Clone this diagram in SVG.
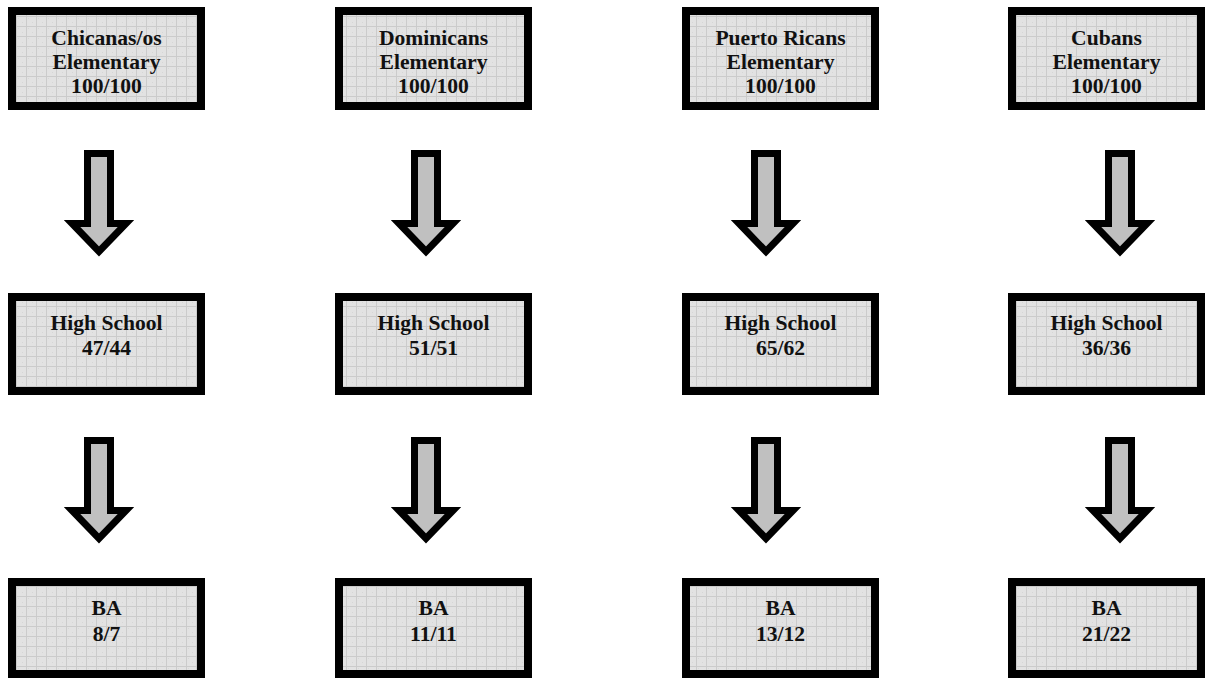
<svg xmlns="http://www.w3.org/2000/svg" width="1209" height="679" viewBox="0 0 1209 679">
<style>
.box{fill:url(#grid);stroke:#000;stroke-width:8}
.arr{fill:#c0c0c0;stroke:#000;stroke-width:7;stroke-linejoin:miter;stroke-miterlimit:10}
text{font-family:"Liberation Serif","Times New Roman",serif;font-weight:bold;font-size:21.6px;fill:#111;text-anchor:middle}
</style>
<defs>
<pattern id="grid" width="10" height="10" patternUnits="userSpaceOnUse" x="16" y="16">
<rect width="10" height="10" fill="#e2e2e2"/>
<rect x="2" y="2" width="1" height="1" fill="#d6d6d6"/>
<rect x="6" y="6" width="1" height="1" fill="#d6d6d6"/>
<path d="M0 0.5H10M0.5 0V10" stroke="#cbcbcb" stroke-width="1"/>
</pattern>
<polygon id="a1" points="-11.5,0 11.5,0 11.5,70 27,70 0,98 -27,70 -11.5,70"/>
</defs>
<rect width="1209" height="679" fill="#fff"/>
<g id="n-chicanas-elem"><rect class="box" x="12" y="11" width="189" height="95"/><text x="106.5" y="45">Chicanas/os</text><text x="106.5" y="69">Elementary</text><text x="106.5" y="93">100/100</text></g>
<g id="n-dominicans-elem"><rect class="box" x="339" y="11" width="189" height="95"/><text x="433.5" y="45">Dominicans</text><text x="433.5" y="69">Elementary</text><text x="433.5" y="93">100/100</text></g>
<g id="n-puertoricans-elem"><rect class="box" x="686" y="11" width="189" height="95"/><text x="780.5" y="45">Puerto Ricans</text><text x="780.5" y="69">Elementary</text><text x="780.5" y="93">100/100</text></g>
<g id="n-cubans-elem"><rect class="box" x="1012" y="11" width="189" height="95"/><text x="1106.5" y="45">Cubans</text><text x="1106.5" y="69">Elementary</text><text x="1106.5" y="93">100/100</text></g>

<g id="n-chicanas-hs"><rect class="box" x="12" y="297" width="189" height="94"/><text x="106.5" y="330">High School</text><text x="106.5" y="355">47/44</text></g>
<g id="n-dominicans-hs"><rect class="box" x="339" y="297" width="189" height="94"/><text x="433.5" y="330">High School</text><text x="433.5" y="355">51/51</text></g>
<g id="n-puertoricans-hs"><rect class="box" x="686" y="297" width="189" height="94"/><text x="780.5" y="330">High School</text><text x="780.5" y="355">65/62</text></g>
<g id="n-cubans-hs"><rect class="box" x="1012" y="297" width="189" height="94"/><text x="1106.5" y="330">High School</text><text x="1106.5" y="355">36/36</text></g>

<g id="n-chicanas-ba"><rect class="box" x="12" y="582" width="189" height="92"/><text x="106.5" y="615">BA</text><text x="106.5" y="641">8/7</text></g>
<g id="n-dominicans-ba"><rect class="box" x="339" y="582" width="189" height="92"/><text x="433.5" y="615">BA</text><text x="433.5" y="641">11/11</text></g>
<g id="n-puertoricans-ba"><rect class="box" x="686" y="582" width="189" height="92"/><text x="780.5" y="615">BA</text><text x="780.5" y="641">13/12</text></g>
<g id="n-cubans-ba"><rect class="box" x="1012" y="582" width="189" height="92"/><text x="1106.5" y="615">BA</text><text x="1106.5" y="641">21/22</text></g>

<g id="connectors">
<use href="#a1" class="arr" transform="translate(99,153.5)"/>
<use href="#a1" class="arr" transform="translate(426,153.5)"/>
<use href="#a1" class="arr" transform="translate(766,153.5)"/>
<use href="#a1" class="arr" transform="translate(1120,153.5)"/>
<use href="#a1" class="arr" transform="translate(99,440.5)"/>
<use href="#a1" class="arr" transform="translate(426,440.5)"/>
<use href="#a1" class="arr" transform="translate(766,440.5)"/>
<use href="#a1" class="arr" transform="translate(1120,440.5)"/>
</g>
</svg>
